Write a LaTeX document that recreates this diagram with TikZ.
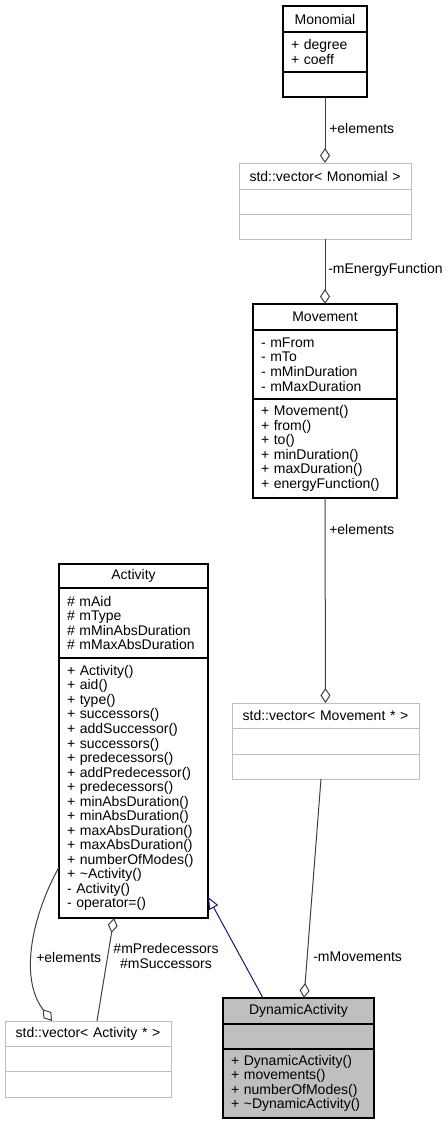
\documentclass[tikz,border=0pt]{standalone}
\usepackage{fontspec}
\setmainfont{Liberation Sans}
\usetikzlibrary{arrows.meta,calc}
\definecolor{edgegray}{HTML}{404040}
\definecolor{boxgray}{HTML}{BFBFBF}
\definecolor{inhblue}{HTML}{191970}
\tikzset{
  part/.style={draw=black, line width=1pt, anchor=north west, inner xsep=6pt, inner ysep=0pt,
    outer sep=0pt, align=left, font=\fontsize{10.5}{10.9}\selectfont},
  title/.style={part, align=center},
  vpart/.style={part, draw=boxgray, line width=0.75pt},
  vtitle/.style={vpart, align=center},
  lbl/.style={anchor=west, inner sep=0pt, font=\fontsize{10.5}{10.9}\selectfont},
  aggr/.style={draw=edgegray, line width=0.75pt, -{Diamond[open,length=11.25pt,width=7.5pt]}},
  inherit/.style={draw=inhblue, line width=0.75pt, -{Triangle[open,length=9pt,width=7.5pt]}}
}
\begin{document}
\begin{tikzpicture}[x=0.75pt,y=-0.75pt]
\useasboundingbox (0,0) rectangle (448,1125);
% Monomial
\node[title, text width=51pt, minimum height=19.5pt] (mono1) at (283,6) {Monomial};
\node[part, text width=51pt, minimum height=30pt] (mono2) at (mono1.south west) {+ degree\\+ coeff};
\node[part, text width=51pt, minimum height=18.75pt] (mono3) at (mono2.south west) {};
% std::vector< Monomial >
\node[vtitle, text width=117pt, minimum height=19.5pt] (vmono1) at (239,163) {std::vector< Monomial >};
\node[vpart, text width=117pt, minimum height=18.75pt] (vmono2) at (vmono1.south west) {};
\node[vpart, text width=117pt, minimum height=18.75pt] (vmono3) at (vmono2.south west) {};
% Movement
\node[title, text width=96pt, minimum height=19.5pt] (move1) at (253,304) {Movement};
\node[part, text width=96pt, minimum height=51.75pt] (move2) at (move1.south west)
  {- mFrom\\- mTo\\- mMinDuration\\- mMaxDuration};
\node[part, text width=96pt, minimum height=74.25pt] (move3) at (move2.south west)
  {+ Movement()\\+ from()\\+ to()\\+ minDuration()\\+ maxDuration()\\+ energyFunction()};
% std::vector< Movement * >
\node[vtitle, text width=128.25pt, minimum height=18.75pt] (vmove1) at (232,703) {std::vector< Movement * >};
\node[vpart, text width=128.25pt, minimum height=19.5pt] (vmove2) at (vmove1.south west) {};
\node[vpart, text width=128.25pt, minimum height=18.75pt] (vmove3) at (vmove2.south west) {};
% Activity
\node[title, text width=99.75pt, minimum height=18pt] (act1) at (59,564) {Activity};
\node[part, text width=99.75pt, minimum height=52.5pt] (act2) at (act1.south west)
  {\# mAid\\\# mType\\\# mMinAbsDuration\\\# mMaxAbsDuration};
\node[part, text width=99.75pt, minimum height=195pt] (act3) at (act2.south west)
  {+ Activity()\\+ aid()\\+ type()\\+ successors()\\+ addSuccessor()\\+ successors()\\
   + predecessors()\\+ addPredecessor()\\+ predecessors()\\+ minAbsDuration()\\
   + minAbsDuration()\\+ maxAbsDuration()\\+ maxAbsDuration()\\+ numberOfModes()\\
   + \textasciitilde Activity()\\- Activity()\\- operator=()};
% std::vector< Activity * >
\node[vtitle, text width=112.5pt, minimum height=18.75pt] (vact1) at (5,1021) {std::vector< Activity * >};
\node[vpart, text width=112.5pt, minimum height=18.75pt] (vact2) at (vact1.south west) {};
\node[vpart, text width=112.5pt, minimum height=19.5pt] (vact3) at (vact2.south west) {};
% DynamicActivity
\node[title, fill=boxgray, text width=101.25pt, minimum height=19.5pt] (dyn1) at (223,998) {DynamicActivity};
\node[part, fill=boxgray, text width=101.25pt, minimum height=18.75pt] (dyn2) at (dyn1.south west) {};
\node[part, fill=boxgray, text width=101.25pt, minimum height=51.75pt] (dyn3) at (dyn2.south west)
  {+ DynamicActivity()\\+ movements()\\+ numberOfModes()\\+ \textasciitilde DynamicActivity()};
% edges
\draw[aggr] (mono3.south) -- (vmono1.north);
\draw[aggr] (vmono3.south) -- (move1.north);
\draw[aggr] (move3.south) -- (vmove1.north);
\draw[aggr] ($(vmove3.south)+(-4.5,0)$) -- ($(dyn1.north)+(5.5,0)$);
\draw[inherit] ($(dyn1.north)+(-35.5,0)$) -- ($(act3.south east)+(0,-21)$);
\draw[aggr] ($(act3.south west)+(0,-51)$) .. controls (30,920) and (20,980) .. ($(vact1.north west)+(47,0)$);
\draw[aggr] ($(vact1.north)+(9,0)$) -- ($(act3.south)+(-19.5,0)$);
% labels
\node[lbl] (lelem1) at (329,128) {+elements};
\node[lbl] (lenergy) at (328,270) {-mEnergyFunction};
\node[lbl] (lelem2) at (329,529) {+elements};
\node[lbl] (lmoves) at (313,957) {-mMovements};
\node[lbl] (lelem3) at (36,957) {+elements};
\node[lbl, anchor=center, align=center] (lpred) at (166,956) {\#mPredecessors\\\#mSuccessors};
\end{tikzpicture}
\end{document}
